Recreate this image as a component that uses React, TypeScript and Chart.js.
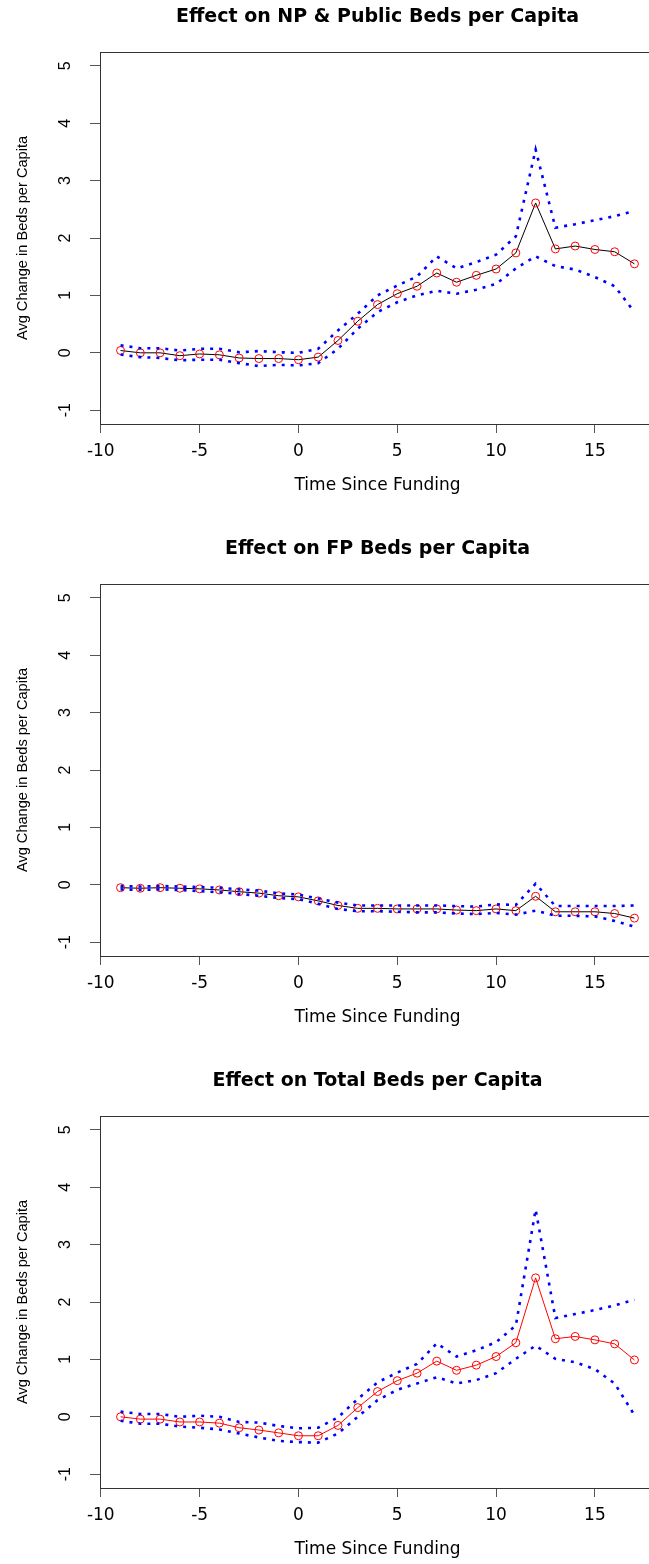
import React, { useEffect, useRef } from "react";
import { Chart, registerables } from "chart.js";

Chart.register(...registerables);

const TIME = [-9, -8, -7, -6, -5, -4, -3, -2, -1, 0, 1, 2, 3, 4, 5, 6, 7, 8, 9, 10, 11, 12, 13, 14, 15, 16, 17];

const X_TICKS = [-10, -5, 0, 5, 10, 15];
const Y_TICKS = [-1, 0, 1, 2, 3, 4, 5];

// Panel 1: NP & Public
const NP_EST = [0.04, 0.0, 0.0, -0.05, -0.02, -0.035, -0.09, -0.1, -0.1, -0.12, -0.075, 0.215, 0.55, 0.84, 1.03, 1.16, 1.39, 1.23, 1.35, 1.46, 1.74, 2.61, 1.81, 1.86, 1.8, 1.76, 1.55];
const NP_UPPER = [0.13, 0.08, 0.08, 0.04, 0.07, 0.07, 0.01, 0.03, 0.01, 0.0, 0.07, 0.39, 0.68, 1.0, 1.17, 1.33, 1.68, 1.47, 1.58, 1.71, 2.03, 3.54, 2.18, 2.24, 2.31, 2.38, 2.47];
const NP_LOWER = [-0.03, -0.075, -0.09, -0.13, -0.12, -0.12, -0.18, -0.23, -0.21, -0.22, -0.18, 0.07, 0.42, 0.71, 0.88, 1.0, 1.08, 1.03, 1.1, 1.2, 1.47, 1.68, 1.51, 1.45, 1.32, 1.16, 0.71];

// Panel 2: FP
const FP_EST = [-0.05, -0.06, -0.05, -0.06, -0.07, -0.09, -0.12, -0.145, -0.19, -0.21, -0.28, -0.36, -0.41, -0.41, -0.42, -0.42, -0.42, -0.44, -0.45, -0.42, -0.45, -0.2, -0.47, -0.47, -0.47, -0.5, -0.58];
const FP_UPPER = [-0.02, -0.03, -0.02, -0.03, -0.04, -0.05, -0.08, -0.1, -0.15, -0.17, -0.24, -0.31, -0.36, -0.36, -0.36, -0.36, -0.36, -0.37, -0.38, -0.34, -0.35, 0.02, -0.37, -0.37, -0.37, -0.37, -0.36];
const FP_LOWER = [-0.08, -0.09, -0.08, -0.09, -0.11, -0.13, -0.16, -0.19, -0.23, -0.25, -0.33, -0.42, -0.46, -0.46, -0.47, -0.48, -0.48, -0.5, -0.51, -0.49, -0.52, -0.45, -0.54, -0.54, -0.55, -0.63, -0.73];

// Panel 3: Total
const TOT_EST = [0.0, -0.04, -0.04, -0.09, -0.09, -0.11, -0.19, -0.23, -0.28, -0.33, -0.33, -0.15, 0.16, 0.44, 0.63, 0.76, 0.97, 0.81, 0.9, 1.05, 1.29, 2.42, 1.36, 1.4, 1.34, 1.27, 0.99];
const TOT_UPPER = [0.09, 0.05, 0.05, 0.0, 0.02, 0.0, -0.09, -0.1, -0.16, -0.2, -0.19, -0.01, 0.31, 0.6, 0.77, 0.92, 1.28, 1.05, 1.16, 1.3, 1.59, 3.61, 1.72, 1.79, 1.86, 1.94, 2.04];
const TOT_LOWER = [-0.07, -0.12, -0.12, -0.17, -0.19, -0.22, -0.29, -0.36, -0.42, -0.44, -0.45, -0.29, 0.0, 0.29, 0.47, 0.58, 0.69, 0.58, 0.64, 0.76, 1.01, 1.24, 1.01, 0.95, 0.83, 0.58, 0.03];

const TITLES = [
  "Effect on NP & Public Beds per Capita",
  "Effect on FP Beds per Capita",
  "Effect on Total Beds per Capita",
];
const X_TITLE = "Time Since Funding";
const Y_TITLE = "Avg Change in Beds per Capita";

const PANELS = [
  { title: TITLES[0], est: NP_EST, upper: NP_UPPER, lower: NP_LOWER, lineColor: "#000000" },
  { title: TITLES[1], est: FP_EST, upper: FP_UPPER, lower: FP_LOWER, lineColor: "#000000" },
  { title: TITLES[2], est: TOT_EST, upper: TOT_UPPER, lower: TOT_LOWER, lineColor: "#ff0000" },
];

const CANVAS_W = 755;
const CANVAS_H = 532;

const toPoints = (ys: number[]) => TIME.map((t, i) => ({ x: t, y: ys[i] }));

const boxPlugin = {
  id: "boxPlugin",
  afterDraw(chart: any) {
    const { ctx, chartArea } = chart;
    ctx.save();
    ctx.strokeStyle = "#333333";
    ctx.lineWidth = 1;
    ctx.strokeRect(
      Math.round(chartArea.left) + 0.5,
      Math.round(chartArea.top) + 0.5,
      Math.round(chartArea.right - chartArea.left),
      Math.round(chartArea.bottom - chartArea.top)
    );
    ctx.restore();
  },
};

function Panel({ panel }: { panel: any }) {
  const ref = useRef<HTMLCanvasElement | null>(null);
  useEffect(() => {
    if (!ref.current) return;
    const ciStyle = {
      borderColor: "#0000ff",
      borderWidth: 2.6,
      borderDash: [3, 6],
      borderCapStyle: "butt",
      pointRadius: 0,
      fill: false,
      tension: 0,
    };
    const chart = new Chart(ref.current, {
      type: "line",
      data: {
        datasets: [
          { label: "upper", data: toPoints(panel.upper), ...ciStyle },
          { label: "lower", data: toPoints(panel.lower), ...ciStyle },
          {
            label: "estimate",
            data: toPoints(panel.est),
            borderColor: panel.lineColor,
            borderWidth: 1,
            pointRadius: 4,
            pointStyle: "circle",
            pointBorderColor: "#ff0000",
            pointBackgroundColor: "rgba(0,0,0,0)",
            pointBorderWidth: 1,
            fill: false,
            tension: 0,
          },
        ],
      },
      options: {
        animation: false,
        responsive: false,
        events: [],
        layout: { padding: 0 },
        plugins: {
          legend: { display: false },
          tooltip: { enabled: false },
          title: {
            display: true,
            text: panel.title,
            color: "#000000",
            font: { family: "'DejaVu Sans'", size: 19, weight: "bold", lineHeight: 1.2 },
            padding: { top: 5.6, bottom: 23.6 },
          },
        },
        scales: {
          x: {
            type: "linear",
            position: "bottom",
            min: -10.04,
            max: 18.04,
            afterBuildTicks: (scale: any) => {
              scale.ticks = X_TICKS.map((v) => ({ value: v }));
            },
            afterFit: (scale: any) => {
              scale.height = CANVAS_H - 424;
            },
            grid: {
              display: true,
              drawOnChartArea: false,
              drawTicks: true,
              tickLength: 9,
              tickColor: "#555555",
              tickWidth: 1,
            },
            border: { display: false },
            ticks: {
              color: "#000000",
              font: { family: "'DejaVu Sans'", size: 17, lineHeight: 1.2 },
              padding: 8.5,
              maxRotation: 0,
              minRotation: 0,
              autoSkip: false,
              callback: (v: any) => String(v),
            },
            title: {
              display: true,
              text: X_TITLE,
              color: "#000000",
              font: { family: "'DejaVu Sans'", size: 17, lineHeight: 1.2 },
              padding: { top: 0, bottom: 36.3 },
            },
          },
          y: {
            type: "linear",
            position: "left",
            min: -1.24,
            max: 5.24,
            afterBuildTicks: (scale: any) => {
              scale.ticks = Y_TICKS.map((v) => ({ value: v }));
            },
            afterFit: (scale: any) => {
              scale.width = 100;
            },
            grid: {
              display: true,
              drawOnChartArea: false,
              drawTicks: true,
              tickLength: 10,
              tickColor: "#555555",
              tickWidth: 1,
            },
            border: { display: false },
            ticks: {
              color: "#000000",
              font: { family: "'Liberation Sans'", size: 16, lineHeight: 1.2 },
              padding: 17,
              minRotation: 90,
              maxRotation: 90,
              crossAlign: "center",
              autoSkip: false,
              callback: (v: any) => String(v),
            },
            title: {
              display: true,
              text: Y_TITLE,
              color: "#000000",
              font: { family: "'Liberation Sans'", size: 14.6, lineHeight: 1.2 },
              padding: { top: 14, bottom: 0 },
            },
          },
          yR: {
            type: "linear",
            position: "right",
            display: true,
            min: -1.24,
            max: 5.24,
            afterFit: (scale: any) => {
              scale.width = CANVAS_W - 655;
            },
            grid: { display: false },
            border: { display: false },
            ticks: { display: false },
          },
        },
      },
      plugins: [boxPlugin],
    } as any);
    return () => chart.destroy();
  }, [panel]);
  return <canvas ref={ref} width={CANVAS_W} height={CANVAS_H} style={{ display: "block", width: CANVAS_W, height: CANVAS_H }} />;
}

export default function App() {
  return (
    <div
      style={{
        position: "absolute",
        left: 0,
        top: 0,
        width: 649,
        height: 1564,
        overflow: "hidden",
        background: "#ffffff",
      }}
    >
      {PANELS.map((p, i) => (
        <div key={i} style={{ position: "absolute", left: 0, top: i * 532, width: CANVAS_W, height: CANVAS_H }}>
          <Panel panel={p} />
        </div>
      ))}
    </div>
  );
}
